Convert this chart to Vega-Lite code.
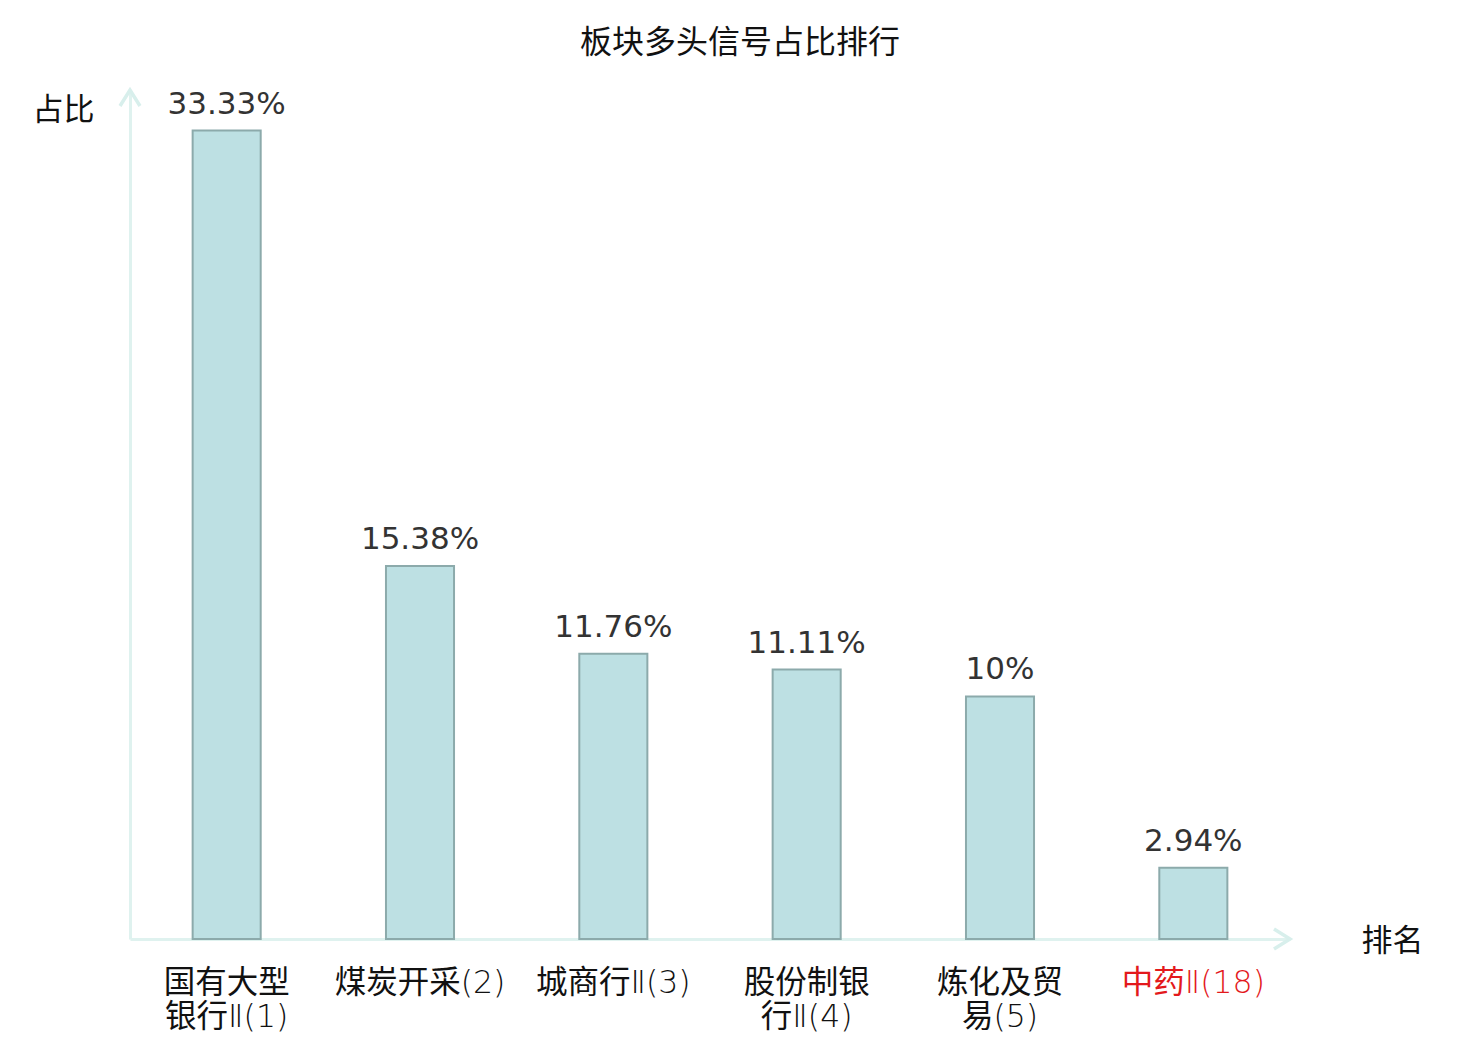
{
  "$schema": "https://vega.github.io/schema/vega-lite/v6.json",
  "width": 1160,
  "height": 849,
  "autosize": {"type": "none"},
  "padding": {"left": 130, "top": 90, "right": 190, "bottom": 101},
  "background": "#ffffff",
  "title": {
    "text": "板块多头信号占比排行",
    "font": "Noto Sans CJK SC",
    "fontSize": 32,
    "fontWeight": "normal",
    "color": "#111111",
    "anchor": "middle",
    "dx": 30,
    "offset": 23
  },
  "config": {
    "view": {"stroke": null},
    "axis": {"grid": false, "ticks": false}
  },
  "datasets": {
    "bars": [
      {"name": "国有大型\n银行Ⅱ(1)", "value": 0.3333},
      {"name": "煤炭开采(2)", "value": 0.1538},
      {"name": "城商行Ⅱ(3)", "value": 0.1176},
      {"name": "股份制银\n行Ⅱ(4)", "value": 0.1111},
      {"name": "炼化及贸\n易(5)", "value": 0.10},
      {"name": "中药Ⅱ(18)", "value": 0.0294}
    ],
    "yarrow": [{"axis": "y", "top": 0.35}],
    "xarrow": [{"axis": "x", "base": 0}]
  },
  "layer": [
    {
      "data": {"name": "bars"},
      "mark": {"type": "bar", "fill": "#bde0e3", "stroke": "#8caaab", "strokeWidth": 2},
      "encoding": {
        "x": {
          "field": "name",
          "type": "nominal",
          "sort": null,
          "scale": {"paddingInner": 0.648, "paddingOuter": 0.324},
          "axis": {
            "title": "排名",
            "titleFont": "Noto Sans CJK SC",
            "titleFontSize": 31,
            "titleFontWeight": "normal",
            "titleColor": "#111111",
            "titleAngle": 0,
            "titleX": 1262,
            "titleY": 2,
            "titleAlign": "center",
            "titleBaseline": "middle",
            "labelAngle": 0,
            "labelFont": "DejaVu Sans Light, Noto Sans CJK SC",
            "labelFontSize": 31.5,
            "labelLineHeight": 34,
            "labelPadding": 28,
            "labelLimit": 400,
            "labelBaseline": "top",
            "labelExpr": "split(datum.label, '\\n')",
            "labelColor": {"expr": "indexof(datum.value, '中药') >= 0 ? '#e3191c' : '#111111'"},
            "domainColor": "#dff2ef",
            "domainWidth": 3
          }
        },
        "y": {
          "field": "value",
          "type": "quantitative",
          "scale": {"domain": [0, 0.35], "nice": false},
          "axis": {
            "title": "占比",
            "titleFont": "Noto Sans CJK SC",
            "titleFontSize": 31,
            "titleFontWeight": "normal",
            "titleColor": "#111111",
            "titleAngle": 0,
            "titleX": -67,
            "titleY": 20,
            "titleAlign": "center",
            "titleBaseline": "middle",
            "labels": false,
            "domainColor": "#dff2ef",
            "domainWidth": 3
          }
        }
      }
    },
    {
      "data": {"name": "bars"},
      "mark": {
        "type": "text",
        "font": "DejaVu Sans",
        "fontSize": 31,
        "color": "#333333",
        "baseline": "alphabetic",
        "dy": -17
      },
      "encoding": {
        "x": {"field": "name", "type": "nominal", "sort": null},
        "y": {"field": "value", "type": "quantitative"},
        "text": {"field": "value", "type": "quantitative", "format": ".2~%"}
      }
    },
    {
      "data": {"name": "yarrow"},
      "mark": {
        "type": "point",
        "shape": "M-1,1.6L0,0L1,1.6",
        "size": 400,
        "filled": false,
        "stroke": "#d8efec",
        "strokeWidth": 3.5,
        "opacity": 1,
        "x": 0
      },
      "encoding": {
        "y": {"field": "top", "type": "quantitative"}
      }
    },
    {
      "data": {"name": "xarrow"},
      "mark": {
        "type": "point",
        "shape": "M-1.6,-1L0,0L-1.6,1",
        "size": 400,
        "filled": false,
        "stroke": "#d8efec",
        "strokeWidth": 3.5,
        "opacity": 1,
        "x": {"expr": "width"}
      },
      "encoding": {
        "y": {"field": "base", "type": "quantitative"}
      }
    }
  ]
}
